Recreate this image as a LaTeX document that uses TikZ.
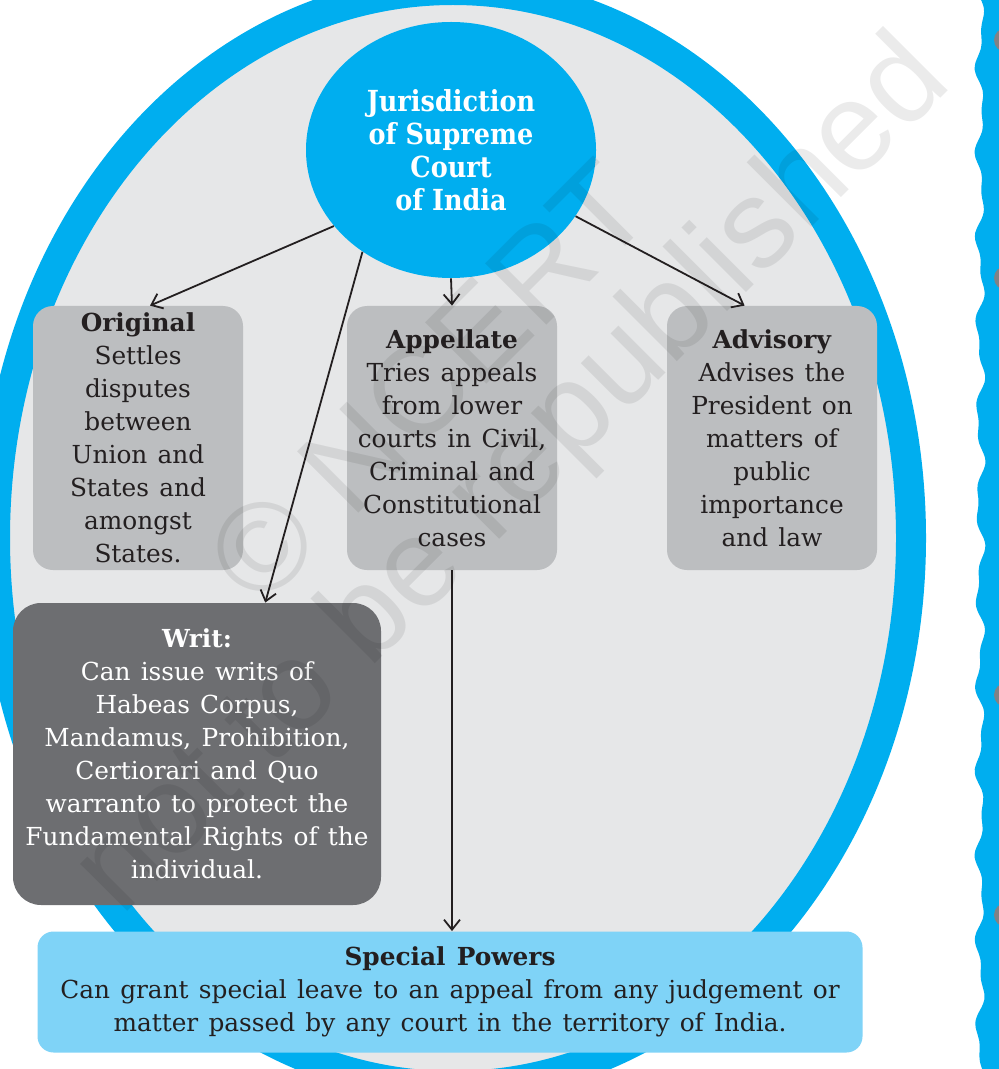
\documentclass[tikz,border=0pt]{standalone}
\usepackage{fontspec}
\setmainfont{DejaVu Serif}[WordSpace=1.3]
\newfontfamily\jurfont[FakeStretch=0.88]{DejaVu Serif}
\newfontfamily\wmfont{Liberation Sans}
\usetikzlibrary{positioning, calc, arrows.meta, shapes.geometric}

\definecolor{ringblue}{HTML}{00AEEF}
\definecolor{ringfill}{HTML}{E6E7E8}
\definecolor{boxgray}{HTML}{BCBEC0}
\definecolor{writgray}{HTML}{6D6E71}
\definecolor{powerblue}{HTML}{7FD3F7}
\definecolor{inkblack}{HTML}{231F20}
\definecolor{holegray}{HTML}{808285}

\begin{document}
\begin{tikzpicture}[x=0.5pt, y=-0.5pt, >={Straight Barb[length=5pt,width=8pt]},
    bodyfont/.style={font={\fontsize{12.4}{16.5}\selectfont}},
    kindbox/.style={rectangle, rounded corners=10pt, fill=boxgray, text=inkblack, align=center,
        inner sep=0pt, minimum width=105pt, minimum height=132pt, bodyfont},
    link/.style={->, line width=0.9pt, draw=inkblack},
    wmtext/.style={rotate=45, text=black, opacity=0.08, font={\wmfont\fontsize{63}{68}\selectfont}}]

    % Page frame
    \clip (0,0) rectangle (999,1069);

    % Big ring
    \filldraw[fill=ringfill, draw=ringblue, line width=15pt] (453,538) ellipse [x radius=458, y radius=548];

    % Page edge strip with binder holes
    \fill[ringblue] (1010,-5) -- plot[domain=-5:1075, samples=160, smooth, variable=\t]
        ({980+3.5*sin(4.1*\t)+2*sin(8.7*\t+30)}, \t) -- (1010,1075) -- cycle;
    \foreach \hy in {40,278,695,915} \fill[holegray] (1006,\hy) circle (12);

    % Centre
    \node[ellipse, fill=ringblue, text=white, minimum width=145pt, minimum height=128pt, inner sep=0pt,
        align=center, font={\jurfont\bfseries\fontsize{14.5}{16.5}\selectfont}] (jur) at (451,150)
        {Jurisdiction\\ of Supreme\\ Court\\ of India};

    % Kinds of jurisdiction
    \node[kindbox] (orig) at (138,438) {\textbf{Original}\\ Settles\\ disputes\\ between\\ Union and\\ States and\\ amongst\\ States.};
    \node[kindbox] (app) at (452,438) {\textbf{Appellate}\\ Tries appeals\\ from lower\\ courts in Civil,\\ Criminal and\\ Constitutional\\ cases};
    \node[kindbox] (adv) at (772,438) {\textbf{Advisory}\\ Advises the\\ President on\\ matters of\\ public\\ importance\\ and law};
    \node[kindbox, fill=writgray, text=white, minimum width=184pt, minimum height=151pt, rounded corners=14pt] (writ) at (197,754)
        {\textbf{Writ:}\\ Can issue writs of\\ Habeas Corpus,\\ Mandamus, Prohibition,\\ Certiorari and Quo\\ warranto to protect the\\ Fundamental Rights of the\\ individual.};
    \node[kindbox, fill=powerblue, minimum width=412.5pt, minimum height=60.5pt, rounded corners=8pt] (spec) at (450,992)
        {\textbf{Special Powers}\\ Can grant special leave to an appeal from any judgement or\\ matter passed by any court in the territory of India.};

    % Arrows
    \draw[link] (jur.213) -- ($(orig.north west)!0.557!(orig.north east)$);
    \draw[link] (jur.229) -- ($(writ.north west)!0.685!(writ.north east)$);
    \draw[link] (jur.south) -- (app.north);
    \draw[link] (jur.332) -- ($(adv.north west)!0.37!(adv.north east)$);
    \draw[link] (app.south) -- (app.south |- spec.north);

    % Watermark
    \node[wmtext] (wmone) at (428,382) {© NCERT};
    \node[wmtext] (wmtwo) at (515,478) {not to be republished};
\end{tikzpicture}
\end{document}
